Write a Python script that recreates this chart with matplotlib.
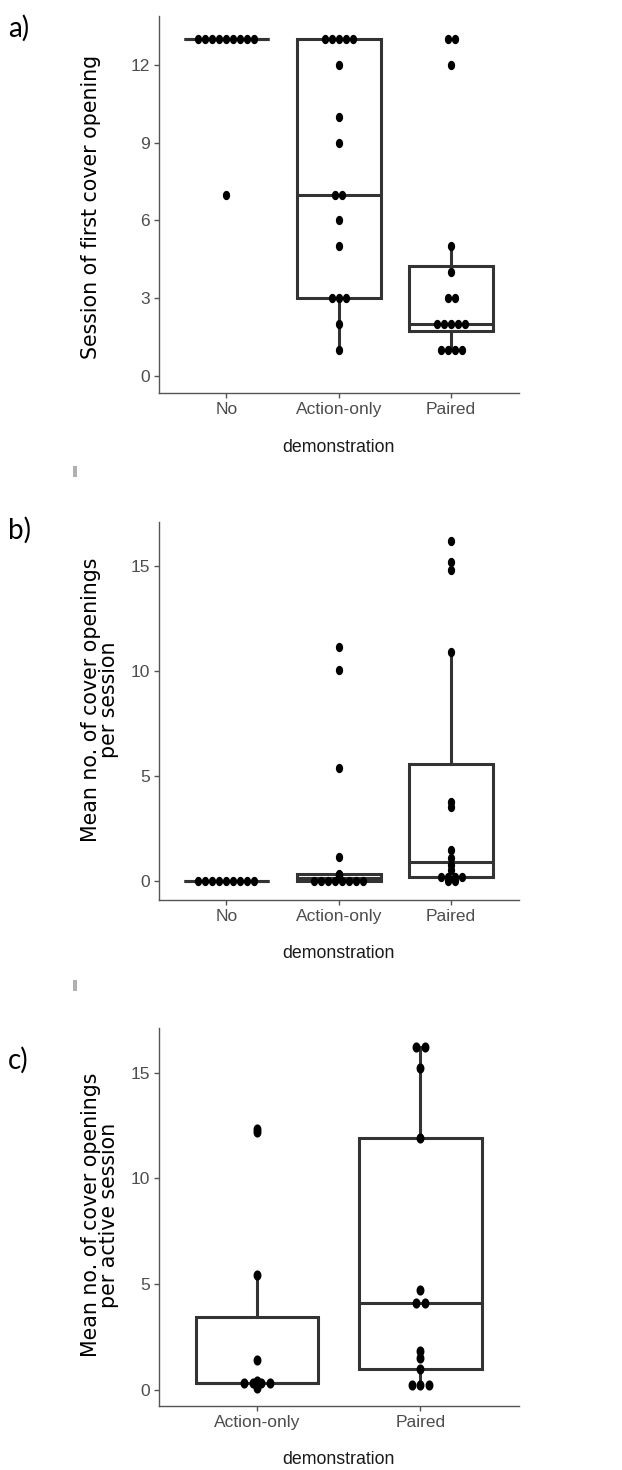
import numpy as np
import matplotlib.pyplot as plt
from matplotlib.patches import Rectangle
from matplotlib.path import Path

groups_ab = ["No", "Action-only", "Paired"]
groups_c = ["Action-only", "Paired"]

# a) session of first cover opening (13 = never opened)
first_no = [13, 13, 13, 13, 13, 13, 13, 13, 13, 7]
first_action = [13, 13, 13, 13, 13, 12, 10, 9, 7, 7, 6, 5, 3, 3, 3, 2, 1]
first_paired = [13, 13, 12, 5, 4, 3, 3, 2, 2, 2, 2, 2, 1, 1, 1, 1]

# b) mean openings per session
rate_no = [0, 0, 0, 0, 0, 0, 0, 0, 0]
rate_action = [0, 0, 0, 0, 0, 0, 0, 0, 0.17, 0.22, 0.27, 0.3, 0.33,
               1.16, 5.4, 10.05, 11.15]
rate_paired = [0, 0, 0.2, 0.2, 0.2, 0.2, 0.52, 0.76, 1.08, 1.48,
               3.54, 3.78, 10.9, 14.8, 15.2, 16.2]

# c) mean openings per active session
active_action = [0.1, 0.2, 0.35, 0.35, 0.35, 0.35, 0.42, 1.42, 5.44, 12.2, 12.35]
active_paired = [0.25, 0.25, 0.25, 0.98, 1.5, 1.85, 4.1, 4.1, 4.73,
                 11.9, 15.2, 16.2, 16.2]

W, H = 622, 1470
fig = plt.figure(figsize=(W / 100, H / 100), dpi=100)

BOX = "#333333"
TICK = "#4d4d4d"
tick_font = "Liberation Sans"

# the source image is stretched vertically, so the dots are slightly tall
t = np.linspace(0, 2 * np.pi, 64)
oval = Path(np.column_stack([0.78 * np.cos(t), np.sin(t)]), closed=True)


def fx(px):
    return px / W


def fy(py):
    return 1 - py / H


def panel(top, bottom, data, cats, ylim, yticks, dot_px, ms):
    left, right = 159, 518.5
    ax = fig.add_axes([fx(left), fy(bottom), fx(right - left), (bottom - top) / H])
    pos = np.arange(1, len(cats) + 1)
    ax.boxplot(data, positions=pos, widths=0.75, whis=1.5, showfliers=False,
               showcaps=False, patch_artist=True,
               boxprops=dict(facecolor="white", edgecolor=BOX, linewidth=2.2),
               whiskerprops=dict(color=BOX, linewidth=2.2),
               medianprops=dict(color=BOX, linewidth=2.2))
    xlim = (0.4, len(cats) + 0.6)
    step = dot_px / ((right - left) / (xlim[1] - xlim[0]))
    # centred dot stacks
    for x, vals in zip(pos, data):
        vals = np.asarray(vals, float)
        for v in np.unique(vals):
            k = int(np.sum(vals == v))
            offs = (np.arange(k) - (k - 1) / 2) * step
            ax.plot(x + offs, np.full(k, v), ls="none", marker=oval,
                    color="black", ms=ms, mew=0, zorder=4)
    ax.set_xlim(*xlim)
    ax.set_ylim(*ylim)
    ax.set_xticks(pos)
    ax.set_xticklabels(cats)
    ax.set_yticks(yticks)
    for s in ["top", "right"]:
        ax.spines[s].set_visible(False)
    for s in ["left", "bottom"]:
        ax.spines[s].set_color("#555555")
        ax.spines[s].set_linewidth(1.0)
    ax.tick_params(colors="#555555", length=3.5, width=1.0, labelsize=12.5,
                   labelcolor=TICK, pad=3)
    for lab in ax.get_xticklabels() + ax.get_yticklabels():
        lab.set_family(tick_font)
    return ax


panel(16, 393, [first_no, first_action, first_paired], groups_ab,
      (-0.656, 13.89), [0, 3, 6, 9, 12], 7.0, 6.7)
panel(521.7, 900, [rate_no, rate_action, rate_paired], groups_ab,
      (-0.9, 17.1), [0, 5, 10, 15], 7.0, 6.7)
panel(1028.3, 1406, [active_action, active_paired], groups_c,
      (-0.76, 17.1), [0, 5, 10, 15], 8.6, 7.3)

# axis titles
ylab_font = "DejaVu Sans"
fig.text(fx(90.7), fy(207), "Session of first cover opening", rotation=90,
         ha="center", va="center", fontsize=14.8, family=ylab_font)
fig.text(fx(100), fy(700), "Mean no. of cover openings\nper session", rotation=90,
         ha="center", va="center", multialignment="center", fontsize=14.8,
         family=ylab_font, linespacing=0.9)
fig.text(fx(100), fy(1215), "Mean no. of cover openings\nper active session",
         rotation=90, ha="center", va="center", multialignment="center",
         fontsize=14.8, family=ylab_font, linespacing=0.9)
for yy in [448, 953, 1460]:
    fig.text(fx(338.7), fy(yy), "demonstration", ha="center", va="center",
             fontsize=12.8, family=tick_font, color="#1a1a1a")

# panel letters
for yy, s in [(28, "a)"), (530, "b)"), (1060, "c)")]:
    fig.text(fx(8), fy(yy), s, ha="left", va="center", fontsize=20, family="Lato")

# small grey marks between panels
for yy in [466, 980]:
    fig.patches.append(Rectangle((fx(72.5), fy(yy + 11)), 4 / W, 11 / H,
                                 transform=fig.transFigure, color="#b0b0b0",
                                 lw=0))

fig.savefig("out.png", dpi=100)
